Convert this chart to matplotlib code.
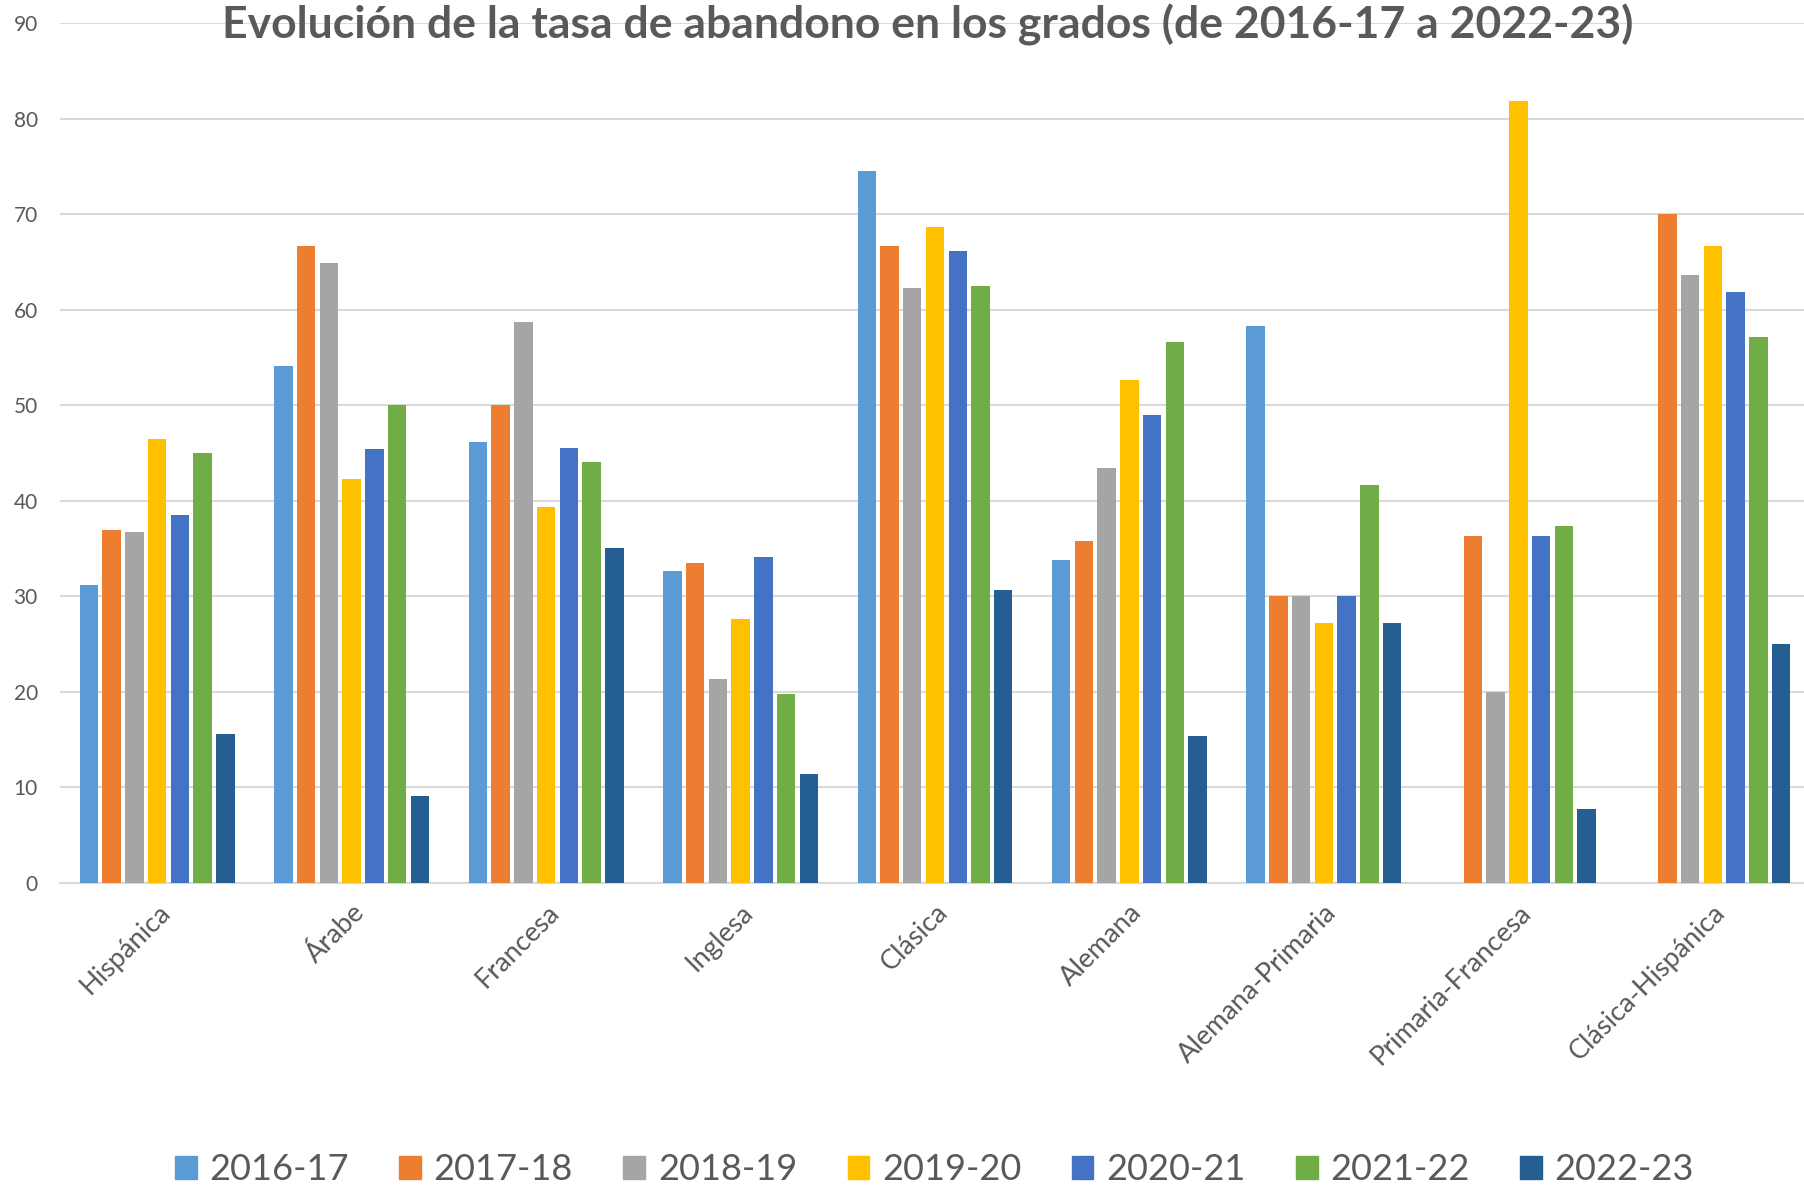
import numpy as np
import matplotlib.pyplot as plt
from matplotlib.patches import Patch

plt.rcParams['font.family'] = ['Lato', 'DejaVu Sans']

categories = ["Hispánica", "Árabe", "Francesa", "Inglesa", "Clásica", "Alemana",
              "Alemana-Primaria", "Primaria-Francesa", "Clásica-Hispánica"]
years = ["2016-17", "2017-18", "2018-19", "2019-20", "2020-21", "2021-22", "2022-23"]

v_2016_17 = [31.2, 54.1, 46.1, 32.6, 74.5, 33.8, 58.3, np.nan, np.nan]
v_2017_18 = [36.9, 66.7, 50.0, 33.5, 66.7, 35.8, 30.0, 36.3, 70.0]
v_2018_19 = [36.7, 64.9, 58.7, 21.4, 62.3, 43.4, 30.0, 20.0, 63.6]
v_2019_20 = [46.5, 42.3, 39.4, 27.6, 68.6, 52.6, 27.2, 81.8, 66.7]
v_2020_21 = [38.5, 45.4, 45.5, 34.1, 66.1, 49.0, 30.0, 36.3, 61.9]
v_2021_22 = [45.0, 50.0, 44.1, 19.8, 62.5, 56.6, 41.6, 37.4, 57.1]
v_2022_23 = [15.6, 9.1, 35.1, 11.4, 30.7, 15.4, 27.2, 7.7, 25.0]

series = [v_2016_17, v_2017_18, v_2018_19, v_2019_20, v_2020_21, v_2021_22, v_2022_23]
colors = ["#5B9BD5", "#ED7D31", "#A5A5A5", "#FFC000", "#4472C4", "#70AD47", "#255E91"]

fig = plt.figure(figsize=(18.04, 11.89), dpi=100)
ax = fig.add_axes([60 / 1804, 1 - 883 / 1189, 1750 / 1804, 860 / 1189])

x = np.arange(len(categories))
step = 0.117
width = 0.095
for i, (vals, col) in enumerate(zip(series, colors)):
    ax.bar(x + (i - 3) * step, vals, width=width, color=col, label=years[i], zorder=3)

ax.set_xlim(-0.5, len(categories) - 0.5)
ax.set_ylim(0, 90)
ax.set_yticks(range(0, 91, 10))
ax.grid(axis="y", color="#D9D9D9", linewidth=1.5, zorder=0)
for s in ["top", "right", "left"]:
    ax.spines[s].set_visible(False)
ax.spines["bottom"].set_color("#D9D9D9")
ax.spines["bottom"].set_linewidth(1.5)
ax.tick_params(axis="both", length=0, colors="#595959", labelsize=15)
ax.tick_params(axis="y", pad=16)
ax.set_xticks(x)
ax.set_xticklabels(categories, rotation=45, ha="right", rotation_mode="anchor", fontsize=19.5)
ax.tick_params(axis="x", pad=12)

fig.text(0.514, 1 - 25 / 1189, "Evolución de la tasa de abandono en los grados (de 2016-17 a 2022-23)",
         ha="center", va="center", fontsize=32, fontweight="bold", color="#595959")

handles = [Patch(color=c) for c in colors]
fig.legend(handles, years, loc="center", bbox_to_anchor=(0.518, 1 - 1170 / 1189), ncol=7,
           frameon=False, fontsize=26, labelcolor="#595959", handlelength=0.6, handleheight=0.6,
           handletextpad=0.35, columnspacing=1.4)

fig.savefig("out.png", dpi=100)
